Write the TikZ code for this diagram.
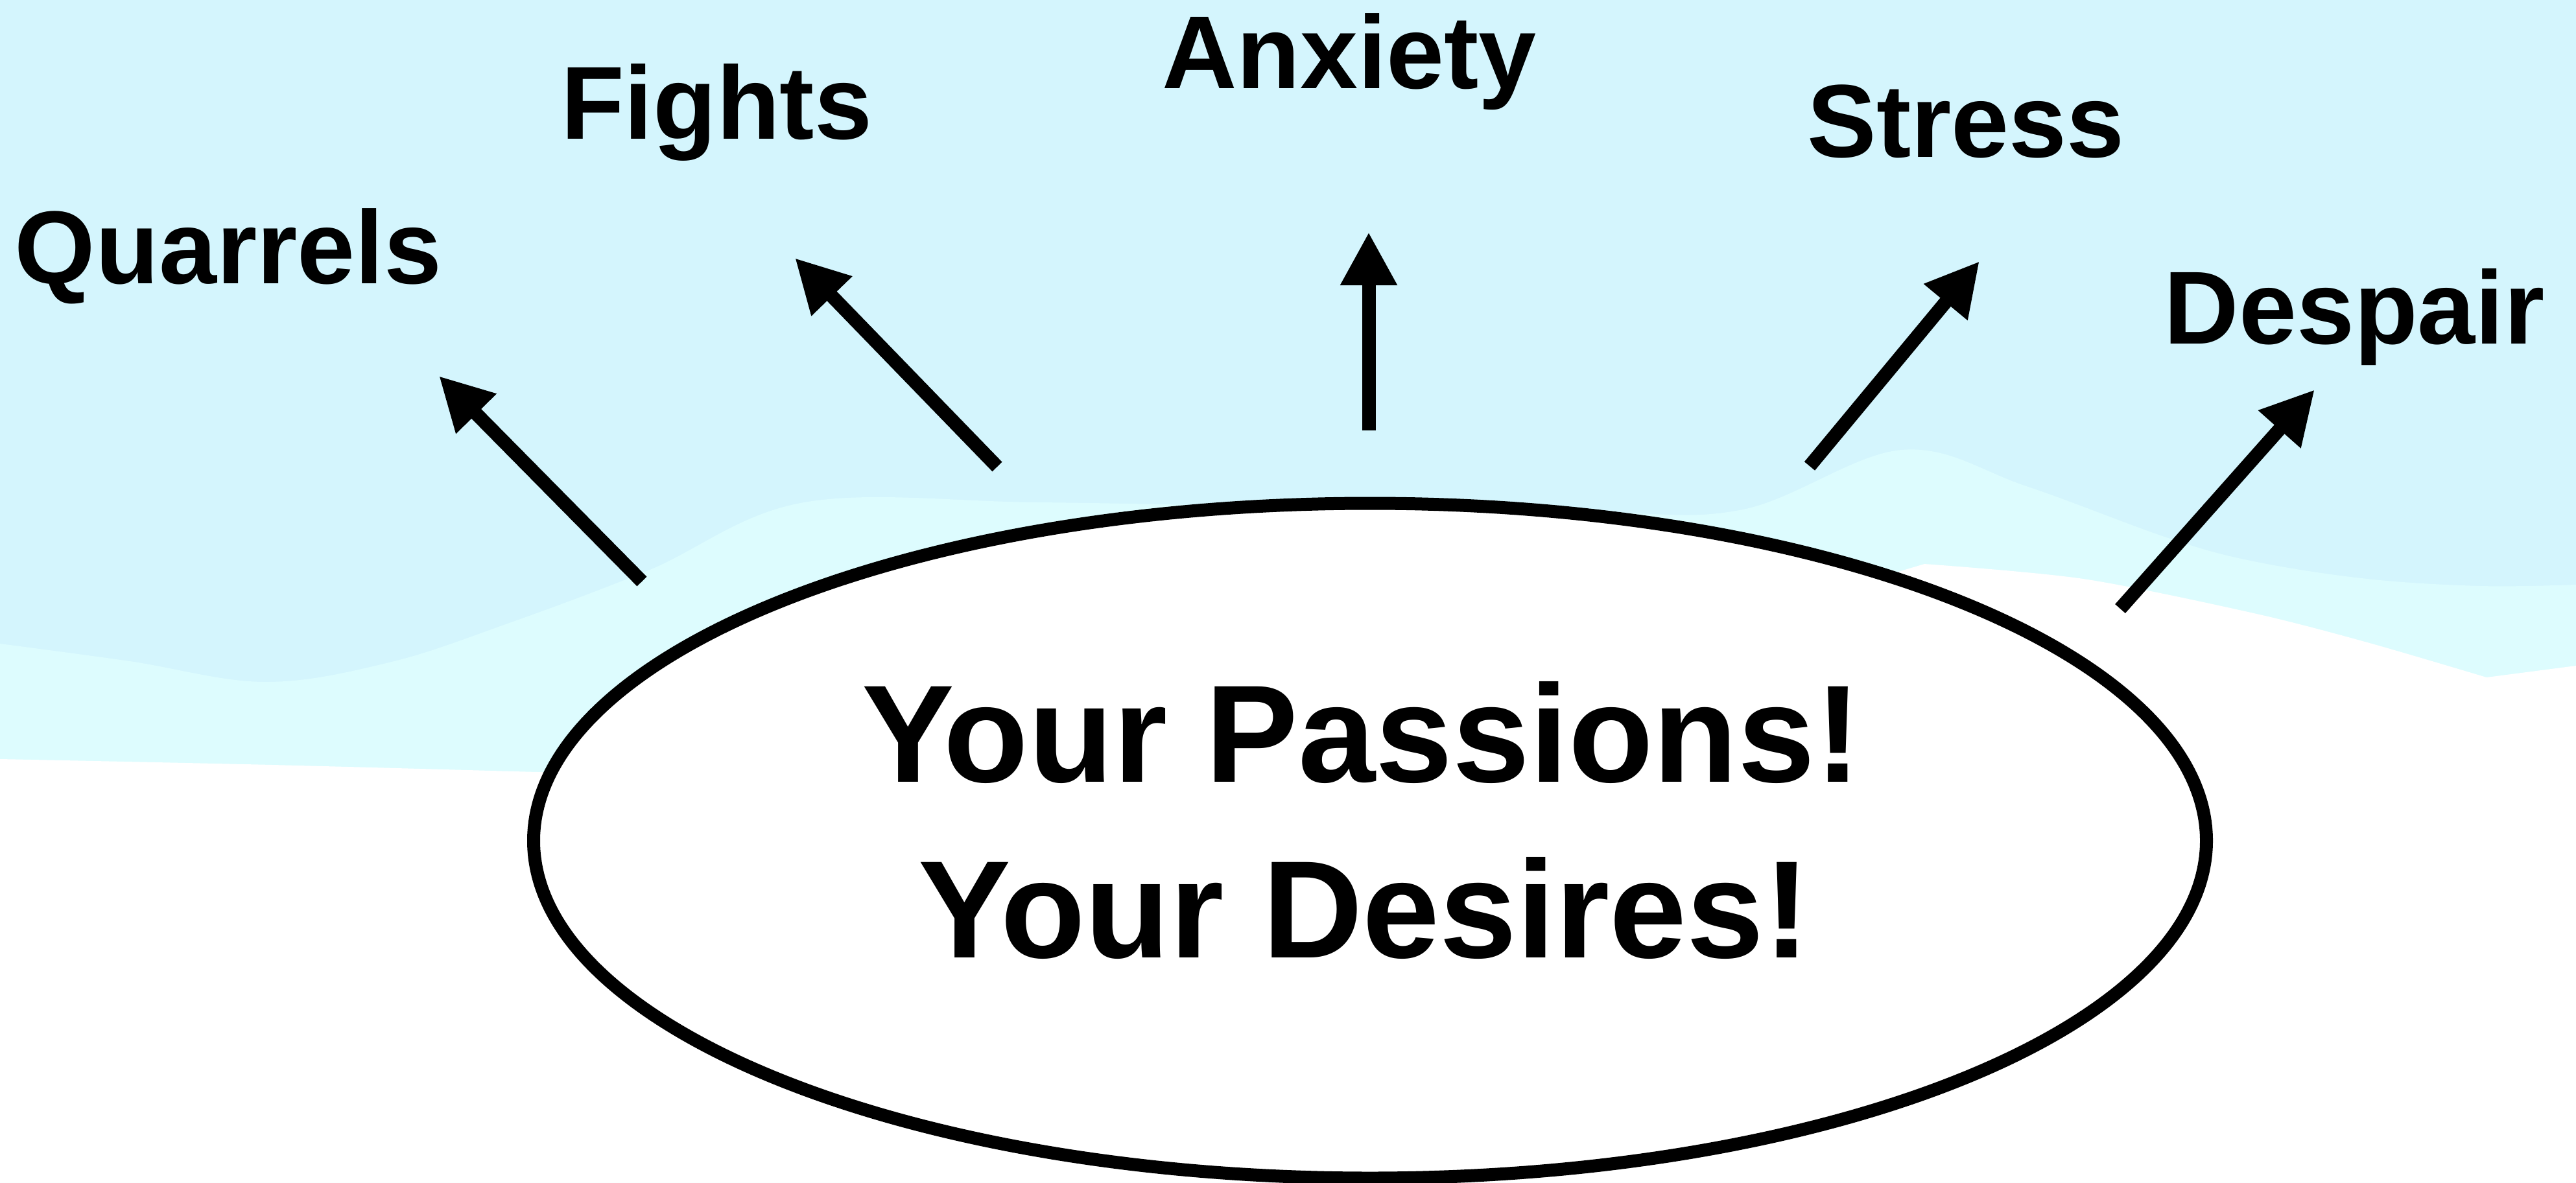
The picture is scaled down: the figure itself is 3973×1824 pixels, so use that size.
\documentclass[tikz,border=0pt]{standalone}
\usepackage{fontspec}
\setmainfont{Liberation Sans}
\usetikzlibrary{arrows.meta,shapes.geometric}
\definecolor{sky}{HTML}{D4F5FD}
\definecolor{band}{HTML}{DDFCFE}
\tikzset{
  lbl/.style={font=\fontsize{160pt}{190pt}\selectfont\bfseries, anchor=base, inner sep=0pt},
  big/.style={font=\fontsize{214pt}{271pt}\selectfont\bfseries, anchor=base, inner sep=0pt},
  uparrow/.style={line width=21pt, -{Triangle[length=82pt,width=82pt]}},
  core/.style={ellipse, draw=black, line width=20pt, fill=white, inner sep=0pt,
    minimum width=2580pt, minimum height=1041pt}
}
\begin{document}
\begin{tikzpicture}[x=1pt,y=-1pt]
\useasboundingbox (0,0) rectangle (3973,1824);
% background
\fill[sky] (0,0) rectangle (3973,1824);
\fill[band] plot[smooth, tension=0.6] coordinates {(0,993) (200,1020) (408,1052) (600,1022) (780,963) (1000,880) (1240,775) (1600,775) (2000,782) (2450,790) (2688,786) (2933,694) (3125,750) (3344,830) (3476,866) (3651,893) (3826,904) (3973,902)}
  -- (3973,1824) -- (0,1824) -- cycle;
\fill[white] plot[smooth, tension=0.5] coordinates {(0,1171) (420,1180) (829,1191)}
  -- (1500,1200) -- (2700,950)
  -- plot[smooth, tension=0.5] coordinates {(2968,870) (3213,893) (3476,946) (3651,991) (3835,1045)}
  -- (3973,1027) -- (3973,1824) -- (0,1824) -- cycle;
% central ellipse
\node[core] (center) at (2113,1297) {};
\node[big] (l1) at (2100,1206) {Your Passions!};
\node[big] (l2) at (2104,1477) {Your Desires!};
% labels
\node[lbl] (quarrels) at (352,437) {Quarrels};
\node[lbl] (fights) at (1105,214) {Fights};
\node[lbl] (anxiety) at (2081,136) {Anxiety};
\node[lbl] (stress) at (3032,242) {Stress};
\node[lbl] (despair) at (3631,530) {Despair};
% arrow ends
\coordinate (qs) at (990,897);  \coordinate (qt) at (677,580);
\coordinate (fs) at (1538,720); \coordinate (ft) at (1226,398);
\coordinate (as) at (2111,664); \coordinate (at) at (2111,358);
\coordinate (ss) at (2791,719); \coordinate (st) at (3053,403);
\coordinate (ds) at (3270,939); \coordinate (dt) at (3570,601);
\draw[uparrow] (qs) -- (qt);
\draw[uparrow] (fs) -- (ft);
\draw[uparrow] (as) -- (at);
\draw[uparrow] (ss) -- (st);
\draw[uparrow] (ds) -- (dt);
\end{tikzpicture}
\end{document}
